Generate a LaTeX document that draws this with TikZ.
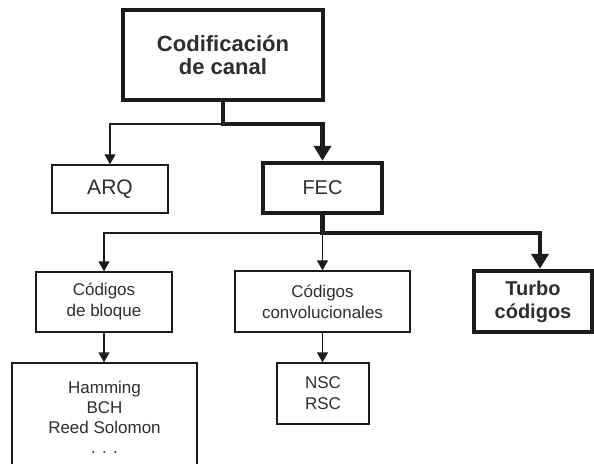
\documentclass[tikz,border=0pt]{standalone}
\usepackage{fontspec}
\setmainfont{Liberation Sans}
\usetikzlibrary{arrows.meta}
\definecolor{linecol}{HTML}{1C1C1C}
\definecolor{txtcol}{HTML}{2E2E2E}
\begin{document}
\begin{tikzpicture}[x=1pt,y=-1pt,
  box/.style={draw=linecol, line width=1.3pt, rectangle, inner sep=0pt, align=center, text=txtcol},
  bbox/.style={box, line width=4.5pt},
  thinline/.style={draw=linecol, line width=1.3pt},
  thickline/.style={draw=linecol, line width=4.5pt},
  tarr/.style={-{Triangle[width=11pt,length=10pt]}},
  Tarr/.style={-{Triangle[width=17pt,length=15pt]}},
  big/.style={font=\fontsize{22}{23}\selectfont\bfseries},
  mid/.style={font=\fontsize{20}{23}\selectfont},
  small/.style={font=\fontsize{17}{21}\selectfont},
]
\useasboundingbox (0,0) rectangle (594,463);

\node[bbox, big, minimum width=200pt, minimum height=90pt] (top) at (223,55) {Codificación\\de canal};
\node[box, font=\fontsize{21}{24}\selectfont, minimum width=116pt, minimum height=48pt] (arq) at (110,189) {ARQ};
\node[bbox, mid, minimum width=119pt, minimum height=50pt] (fec) at (322.5,188) {FEC};
\node[box, small, minimum width=136pt, minimum height=60pt] (blo) at (104,302) {Códigos\\de bloque};
\node[box, small, minimum width=175pt, minimum height=61pt] (con) at (322.5,301.5) {Códigos\\convolucionales};
\node[bbox, font=\fontsize{20}{23}\selectfont\bfseries, minimum width=118pt, minimum height=61pt] (tur) at (533,301.5) {Turbo\\códigos};
\node[box, small, minimum width=92pt, minimum height=61pt] (nsc) at (323,393.5) {NSC\\RSC};
\node[box, font=\fontsize{17}{20}\selectfont, minimum width=185pt, minimum height=108pt] (ham) at (104.5,417) {Hamming\\BCH\\Reed Solomon\\. . .};

\coordinate (j1) at (223,124);
\coordinate (j2) at (322.5,233);
\coordinate (tx) at (540,0);

\draw[thinline, tarr] (j1) -| (arq.north);
\draw[thinline, tarr] (j2) -| (blo.north);
\draw[thinline, tarr] (j2) -- (con.north);
\draw[thinline, tarr] (blo.south) -- (blo.south |- ham.north);
\draw[thinline, tarr] (con.south) -- (con.south |- nsc.north);
\draw[thickline, Tarr] (top.south) -- (j1) -| (fec.north);
\draw[thickline, Tarr] (fec.south) -- (j2) -| (tur.north -| tx);
\end{tikzpicture}
\end{document}
